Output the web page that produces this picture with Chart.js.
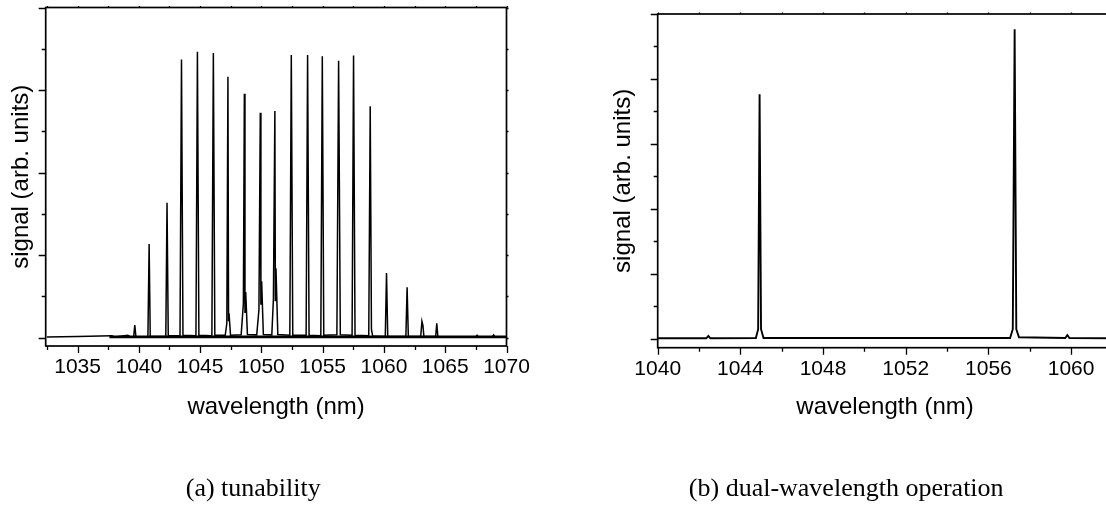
<!DOCTYPE html>
<html>
<head>
<meta charset="utf-8">
<script src="https://cdn.jsdelivr.net/npm/chart.js@4.4.1/dist/chart.umd.min.js"></script>
<style>
    html, body { margin: 0; padding: 0; background: #fff; overflow: hidden; }
    body { width: 1106px; height: 506px; position: relative; }
    canvas { position: absolute; top: 0; }
    #chartA { left: 0; }
    #chartB { left: 580px; }
</style>
</head>
<body>
<canvas id="chartA" width="541" height="506"></canvas>
<canvas id="chartB" width="590" height="506"></canvas>
<script>
// (a) tunability - overlaid laser lines
const wavelengthA = [
    1032.5, 1035.0, 1037.8, 1038.0, 1039.1, 1039.3,
    1039.58, 1039.67, 1039.76,
    1040.74, 1040.84, 1040.93,
    1042.20, 1042.30, 1042.40,
    1043.36, 1043.48, 1043.60,
    1044.66, 1044.78, 1044.90,
    1045.96, 1046.08, 1046.20,
    1047.05, 1047.18, 1047.27, 1047.32, 1047.36, 1047.48,
    1048.35, 1048.53, 1048.61, 1048.66, 1048.72, 1048.86,
    1049.62, 1049.80, 1049.91, 1049.96, 1050.02, 1050.16,
    1050.85, 1050.98, 1051.10, 1051.14, 1051.19, 1051.34,
    1052.32, 1052.44, 1052.56,
    1053.65, 1053.77, 1053.89,
    1054.85, 1054.97, 1055.09,
    1056.16, 1056.30, 1056.44,
    1057.40, 1057.52, 1057.64,
    1058.76, 1058.88, 1058.98, 1059.08,
    1060.11, 1060.21, 1060.31,
    1061.79, 1061.89, 1061.99,
    1063.00, 1063.10, 1063.18, 1063.26,
    1064.22, 1064.31, 1064.40,
    1067.50, 1067.60, 1067.70,
    1068.85, 1068.95, 1069.05, 1070.0
]
const signalA = [
    0.02, 0.03, 0.05, 0.02, 0.06, 0.02,
    0.03, 0.31, 0.03,
    0.02, 2.27, 0.03,
    0.03, 3.27, 0.05,
    0.05, 6.74, 0.06,
    0.05, 6.93, 0.06,
    0.05, 6.90, 0.06,
    0.06, 0.35, 6.32, 0.40, 0.59, 0.06,
    0.07, 0.83, 5.91, 0.60, 1.11, 0.08,
    0.07, 0.68, 5.45, 0.80, 1.37, 0.08,
    0.07, 0.93, 5.49, 0.90, 1.68, 0.08,
    0.06, 6.85, 0.06,
    0.06, 6.85, 0.06,
    0.05, 6.82, 0.06,
    0.07, 6.71, 0.07,
    0.06, 6.84, 0.06,
    0.05, 5.61, 0.20, 0.04,
    0.03, 1.57, 0.03,
    0.03, 1.22, 0.03,
    0.03, 0.40, 0.30, 0.03,
    0.03, 0.35, 0.03,
    0.02, 0.06, 0.02,
    0.02, 0.07, 0.02, 0.02
]
// noise floor of all the overlaid traces
const floorWavelengthA = [1037.6, 1070.0]
const floorSignalA = [0.02, 0.02]

// (b) dual-wavelength operation
const wavelengthB = [
    1040.0, 1042.35, 1042.45, 1042.55,
    1044.75, 1044.86, 1044.93, 1045.00, 1045.12,
    1057.05, 1057.18, 1057.27, 1057.35, 1057.48,
    1059.72, 1059.82, 1059.92, 1062.0
]
const signalB = [
    0.02, 0.02, 0.09, 0.02,
    0.03, 0.30, 7.53, 0.30, 0.03,
    0.03, 0.30, 9.53, 0.30, 0.05,
    0.03, 0.12, 0.03, 0.02
]

const toPoints = (xs, ys) => xs.map((x, i) => ({x: x, y: ys[i]}))

const sans = 'Liberation Sans, Arial, sans-serif'
const serif = 'Liberation Serif, Times New Roman, serif'

// box + tick marks like the original plotting program
const framePlugin = {
    id: 'frame',
    afterDatasetsDraw(chart, args, opts) {
        const {ctx, chartArea: a} = chart
        const xs = chart.scales.x, ys = chart.scales.y
        const isMajor = (v, step) => Math.abs(v / step - Math.round(v / step)) < 1e-6
        ctx.save()
        ctx.strokeStyle = '#000'
        ctx.lineWidth = 1.7
        ctx.strokeRect(a.left, a.top, a.right - a.left, a.bottom - a.top)
        ctx.lineWidth = 1.3
        ctx.beginPath()
        xs.ticks.forEach(t => {
            const px = Math.round(xs.getPixelForValue(t.value)) + 0.5
            const len = isMajor(t.value, opts.majorX) ? 7 : 4
            ctx.moveTo(px, a.bottom)
            ctx.lineTo(px, a.bottom + len)
            ctx.moveTo(px, a.top)
            ctx.lineTo(px, a.top - 1.5)
        })
        ys.ticks.forEach(t => {
            const py = Math.round(ys.getPixelForValue(t.value)) + 0.5
            const len = isMajor(t.value, opts.majorY) ? 7 : 4
            ctx.moveTo(a.left, py)
            ctx.lineTo(a.left - len, py)
            ctx.moveTo(a.right, py)
            ctx.lineTo(a.right + 2, py)
        })
        ctx.stroke()
        ctx.restore()
    }
}

function makeChart(id, cfg) {
    return new Chart(document.getElementById(id), {
        type: 'line',
        data: {datasets: cfg.datasets},
        plugins: [framePlugin],
        options: {
            responsive: false,
            animation: false,
            events: [],
            layout: {padding: cfg.padding},
            elements: {point: {radius: 0}, line: {tension: 0}},
            plugins: {
                legend: {display: false},
                tooltip: {enabled: false},
                frame: {majorX: cfg.majorX, majorY: 2},
                title: {
                    display: true,
                    text: cfg.caption,
                    position: 'bottom',
                    color: '#000',
                    font: {family: serif, size: 26, weight: 'normal'},
                    padding: {top: 17, bottom: 1.4}
                }
            },
            scales: {
                x: {
                    type: 'linear',
                    min: cfg.xMin,
                    max: cfg.xMax,
                    grid: {display: false, drawTicks: false},
                    border: {display: false},
                    ticks: {
                        stepSize: cfg.xStep,
                        includeBounds: false,
                        autoSkip: false,
                        maxRotation: 0,
                        padding: 9,
                        color: '#000',
                        font: {family: sans, size: 21},
                        callback: v => (Math.abs(v / cfg.majorX - Math.round(v / cfg.majorX)) < 1e-6 ? String(v) : '')
                    },
                    title: {
                        display: true,
                        text: 'wavelength (nm)',
                        color: '#000',
                        font: {family: sans, size: 24},
                        padding: {top: 0, bottom: 35}
                    },
                    afterFit: s => { s.height = cfg.xHeight }
                },
                y: {
                    min: cfg.yMin,
                    max: cfg.yMax,
                    grid: {display: false, drawTicks: false},
                    border: {display: false},
                    ticks: {display: false, stepSize: 1, includeBounds: false},
                    title: {
                        display: true,
                        text: 'signal (arb. units)',
                        color: '#000',
                        font: {family: sans, size: 24},
                        padding: {top: cfg.yTitlePad, bottom: 0}
                    },
                    afterFit: s => { s.width = cfg.yWidth }
                }
            }
        }
    })
}

makeChart('chartA', {
    caption: '(a) tunability',
    datasets: [
        {data: toPoints(floorWavelengthA, floorSignalA), borderColor: '#000', borderWidth: 2.6},
        {data: toPoints(wavelengthA, signalA), borderColor: '#000', borderWidth: 1.5}
    ],
    xMin: 1032.4, xMax: 1070, xStep: 2.5, majorX: 5,
    yMin: -0.2, yMax: 8,
    padding: {left: 0, right: 34.5, top: 7.5, bottom: 0},
    yWidth: 45.7, yTitlePad: 6.6, xHeight: 110.4
})

makeChart('chartB', {
    caption: '(b) dual-wavelength operation',
    datasets: [
        {data: toPoints(wavelengthB, signalB), borderColor: '#000', borderWidth: 1.9}
    ],
    xMin: 1040, xMax: 1062, xStep: 2, majorX: 4,
    yMin: -0.27, yMax: 10,
    padding: {left: 0, right: 57.6, top: 14, bottom: 0},
    yWidth: 77.7, yTitlePad: 28.6, xHeight: 108.7
})
</script>
</body>
</html>
